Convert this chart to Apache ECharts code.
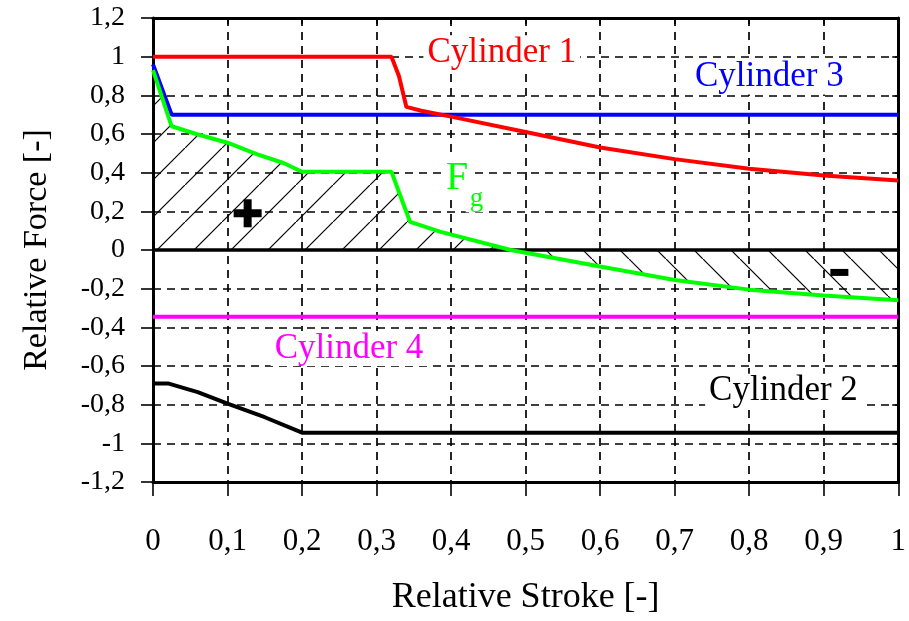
<!DOCTYPE html>
<html lang="en">
<head>
<meta charset="UTF-8">
<title>Relative Force</title>
<script src="https://cdn.jsdelivr.net/npm/echarts@6/dist/echarts.min.js"></script>
<style>
  html, body { margin: 0; padding: 0; background: #fff; }
  #main { width: 909px; height: 621px; }
</style>
</head>
<body>
<div id="main"></div>
<script>
// curves: [relative stroke, relative force]
var cylinder1 = [[0, 1], [0.32, 1], [0.33, 0.9], [0.34, 0.74], [0.36, 0.72], [0.4, 0.69],
                 [0.5, 0.61], [0.6, 0.53], [0.7, 0.47], [0.8, 0.42], [0.9, 0.385], [1, 0.36]];
var cylinder3 = [[0, 0.96], [0.025, 0.7], [1, 0.7]];
var cylinder4 = [[0, -0.345], [1, -0.345]];
var cylinder2 = [[0, -0.69], [0.02, -0.69], [0.06, -0.735], [0.1, -0.795], [0.15, -0.865],
                 [0.2, -0.945], [1, -0.945]];
var fg = [[0, 0.93], [0.025, 0.64], [0.058, 0.6], [0.1, 0.555], [0.14, 0.495], [0.175, 0.45],
          [0.2, 0.405], [0.32, 0.405], [0.33, 0.3], [0.345, 0.145], [0.385, 0.095], [0.48, 0],
          [0.6, -0.085], [0.7, -0.155], [0.8, -0.205], [0.9, -0.235], [1, -0.26]];
var fgZero = 0.48;

var xLabels = ['0', '0,1', '0,2', '0,3', '0,4', '0,5', '0,6', '0,7', '0,8', '0,9', '1'];
var yLabels = ['-1,2', '-1', '-0,8', '-0,6', '-0,4', '-0,2', '0', '0,2', '0,4', '0,6', '0,8', '1', '1,2'];

var FONT = '"Liberation Serif", "Times New Roman", serif';

// diagonal hatch tile, dir 1 = "/", -1 = "\"
function hatch(dir) {
    var s = 37;
    var c = document.createElement('canvas');
    c.width = s; c.height = s;
    var g = c.getContext('2d');
    g.strokeStyle = '#000';
    g.lineWidth = 1.2;
    g.beginPath();
    if (dir > 0) { g.moveTo(-1, s + 1); g.lineTo(s + 1, -1); }
    else { g.moveTo(-1, -1); g.lineTo(s + 1, s + 1); }
    g.stroke();
    return c;
}

var fgPos = fg.filter(function (p) { return p[0] <= fgZero; });
var fgNeg = fg.filter(function (p) { return p[0] >= fgZero; });

function curve(name, data, color, width) {
    return {
        name: name, type: 'line', data: data, showSymbol: false, silent: true,
        lineStyle: { color: color, width: width }, z: 5
    };
}

var myChart = echarts.init(document.getElementById('main'));

var gridLine = { show: true, lineStyle: { color: '#000', width: 1.7, type: [8, 6] } };
var frame = { show: true, onZero: false, lineStyle: { color: '#000', width: 3 } };

var option = {
    backgroundColor: '#fff',
    animation: false,
    grid: { left: 153, right: 8, top: 18, bottom: 138 },
    xAxis: [{
        type: 'value', min: 0, max: 1, interval: 0.1, position: 'bottom',
        name: 'Relative Stroke [-]', nameLocation: 'middle', nameGap: 98,
        nameTextStyle: { fontFamily: FONT, fontSize: 36, color: '#000' },
        axisLine: frame,
        axisTick: { length: 14, lineStyle: { color: '#000', width: 1.6 } },
        axisLabel: {
            margin: 44, fontFamily: FONT, fontSize: 31, color: '#000',
            formatter: function (v, i) { return xLabels[i]; }
        },
        splitLine: gridLine
    }, {
        type: 'value', min: 0, max: 1, interval: 0.1, position: 'top',
        axisLine: frame,
        axisTick: { inside: true, length: 6, lineStyle: { color: '#000', width: 1.6 } },
        axisLabel: { show: false }, splitLine: { show: false }
    }],
    yAxis: [{
        type: 'value', min: -1.2, max: 1.2, interval: 0.2, position: 'left',
        name: 'Relative Force [-]', nameLocation: 'middle', nameGap: 99,
        nameTextStyle: { fontFamily: FONT, fontSize: 34, color: '#000' },
        axisLine: frame,
        axisTick: { length: 12, lineStyle: { color: '#000', width: 1.6 } },
        axisLabel: {
            margin: 28, fontFamily: FONT, fontSize: 28, color: '#000',
            formatter: function (v, i) { return yLabels[i]; }
        },
        splitLine: gridLine
    }, {
        type: 'value', min: -1.2, max: 1.2, interval: 0.2, position: 'right',
        axisLine: frame,
        axisTick: { inside: true, length: 6, lineStyle: { color: '#000', width: 1.6 } },
        axisLabel: { show: false }, splitLine: { show: false }
    }],
    series: [
        {
            type: 'line', data: fgPos, showSymbol: false, silent: true, z: 2,
            lineStyle: { width: 0, opacity: 0 },
            areaStyle: { origin: 'auto', opacity: 1, color: { image: hatch(1), repeat: 'repeat' } }
        },
        {
            type: 'line', data: fgNeg, showSymbol: false, silent: true, z: 2,
            lineStyle: { width: 0, opacity: 0 },
            areaStyle: { origin: 'auto', opacity: 1, color: { image: hatch(-1), repeat: 'repeat' } }
        },
        curve('Cylinder 2', cylinder2, '#000', 4),
        curve('Cylinder 4', cylinder4, '#ff00ff', 4),
        curve('Cylinder 3', cylinder3, '#0000ff', 4),
        curve('Cylinder 1', cylinder1, '#ff0000', 4),
        curve('Fg', fg, '#00ff00', 4)
    ]
};
option.series[2].markLine = {
    symbol: 'none', silent: true, label: { show: false },
    lineStyle: { color: '#000', width: 3.5, type: 'solid' },
    data: [{ yAxis: 0 }]
};
myChart.setOption(option);

// text annotations anchored in data space, on a white box like the original
var notes = [
    { text: 'Cylinder 1', at: [0.468, 1.02], color: '#ff0000', size: 35 },
    { text: 'Cylinder 3', at: [0.827, 0.895], color: '#0000ff', size: 35 },
    { text: 'Cylinder 4', at: [0.263, -0.51], color: '#ff00ff', size: 35 },
    { text: 'Cylinder 2', at: [0.846, -0.73], color: '#000', size: 35 },
    { text: 'F', at: [0.408, 0.372], color: '#00ff00', size: 40 },
    { text: 'g', at: [0.434, 0.265], color: '#00ff00', size: 27 }
];
var px = function (p) { return myChart.convertToPixel({ seriesIndex: 2 }, p); };
var graphics = notes.map(function (n) {
    var p = px(n.at);
    return {
        type: 'text', x: p[0], y: p[1], z: 20, silent: true,
        style: {
            text: n.text, fill: n.color, font: n.size + 'px ' + FONT,
            align: 'center', verticalAlign: 'middle',
            backgroundColor: '#fff', padding: [0, 4]
        }
    };
});
var plus = px([0.127, 0.19]);
graphics.push({ type: 'rect', z: 20, shape: { x: plus[0] - 14, y: plus[1] - 4, width: 28, height: 8 }, style: { fill: '#000' } });
graphics.push({ type: 'rect', z: 20, shape: { x: plus[0] - 4, y: plus[1] - 14, width: 8, height: 28 }, style: { fill: '#000' } });
var minus = px([0.921, -0.116]);
graphics.push({ type: 'rect', z: 20, shape: { x: minus[0] - 9, y: minus[1] - 3.5, width: 18, height: 7 }, style: { fill: '#000' } });
myChart.setOption({ graphic: graphics });
</script>
</body>
</html>
